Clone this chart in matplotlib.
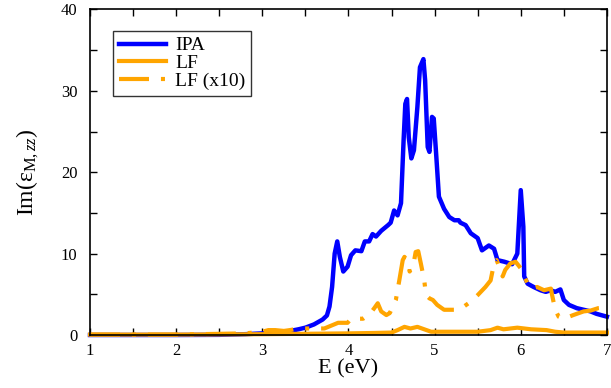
import matplotlib
matplotlib.use("Agg")
import matplotlib.pyplot as plt
import numpy as np

# ---- data ----
E_ipa = [1.0, 2.0, 2.5, 2.8, 3.0, 3.2, 3.3, 3.42, 3.5, 3.6, 3.7, 3.75, 3.78, 3.81, 3.84, 3.87,
         3.90, 3.94, 3.99, 4.03, 4.08, 4.15, 4.19, 4.24, 4.28, 4.32, 4.38, 4.46, 4.49,
         4.53, 4.57, 4.61, 4.64, 4.66, 4.68, 4.70, 4.73, 4.76, 4.80, 4.83, 4.87, 4.89,
         4.92, 4.94, 4.97, 4.99, 5.02, 5.05, 5.11, 5.17, 5.23, 5.28, 5.30, 5.36, 5.42,
         5.50, 5.55, 5.63, 5.69, 5.73, 5.81, 5.90, 5.96, 6.00, 6.03, 6.04, 6.08, 6.15,
         6.23, 6.29, 6.35, 6.40, 6.46, 6.50, 6.56, 6.65, 6.73, 6.81, 6.88, 7.0]
ipa = [0.0, 0.0, 0.02, 0.1, 0.2, 0.3, 0.45, 0.7, 0.9, 1.3, 1.9, 2.4, 3.5, 5.9, 10.0, 11.5,
       9.6, 7.8, 8.4, 9.8, 10.4, 10.3, 11.5, 11.5, 12.4, 12.1, 12.8, 13.5, 13.8,
       15.3, 14.7, 16.2, 23.9, 28.4, 29.0, 24.3, 21.7, 22.7, 28.0, 32.9, 33.9, 31.3,
       23.1, 22.5, 26.8, 26.6, 21.9, 17.0, 15.5, 14.5, 14.1, 14.1, 13.8, 13.5, 12.5,
       11.9, 10.4, 11.0, 10.6, 9.2, 9.0, 8.7, 10.0, 17.8, 13.3, 7.2, 6.3, 5.9,
       5.5, 5.3, 5.5, 5.3, 5.6, 4.3, 3.7, 3.3, 3.1, 2.9, 2.6, 2.25]

E_lf = [1.0, 2.0, 3.0, 3.5, 4.0, 4.3, 4.5, 4.57, 4.65, 4.72, 4.80, 4.88, 4.96, 5.2, 5.5,
        5.65, 5.73, 5.80, 5.88, 5.96, 6.04, 6.12, 6.3, 6.4, 6.5, 7.0]
lf = [0.05, 0.05, 0.1, 0.15, 0.2, 0.25, 0.3, 0.6, 1.0, 0.8, 1.0, 0.7, 0.4, 0.4, 0.4,
      0.6, 0.9, 0.7, 0.8, 0.9, 0.8, 0.7, 0.6, 0.4, 0.3, 0.3]

E_lf10 = [1.0, 2.0, 2.8, 3.0, 3.07, 3.15, 3.25, 3.32, 3.42, 3.55, 3.72, 3.88, 3.99, 4.03,
          4.17, 4.25, 4.30, 4.34, 4.38, 4.44, 4.48, 4.55, 4.59, 4.63, 4.65, 4.69,
          4.71, 4.75, 4.78, 4.81, 4.84, 4.88, 4.90, 4.94, 4.98, 5.03, 5.11, 5.19,
          5.27, 5.34, 5.42, 5.50, 5.59, 5.65, 5.69, 5.72, 5.75, 5.79, 5.82, 5.88,
          5.94, 6.0, 6.04, 6.09, 6.13, 6.19, 6.27, 6.35, 6.36, 6.40, 6.44, 6.50,
          6.61, 6.73, 6.81, 6.90, 7.0]
lf10 = [0.05, 0.05, 0.2, 0.4, 0.6, 0.6, 0.5, 0.6, 0.8, 0.8, 0.8, 1.5, 1.5, 2.0,
        2.0, 2.6, 3.3, 3.9, 2.9, 2.45, 2.7, 4.3, 6.7, 9.2, 9.6, 9.0,
        7.8, 8.4, 10.2, 10.3, 8.8, 6.7, 4.9, 4.5, 4.3, 3.7, 3.1, 3.1,
        3.1, 3.5, 4.1, 4.9, 5.9, 6.7, 8.8, 9.2, 8.4, 7.2, 8.0, 8.8,
        9.0, 8.2, 7.2, 6.1, 5.7, 5.9, 5.5, 5.7, 5.1, 3.1, 2.25, 2.0,
        2.45, 2.9, 3.0, 3.3, 3.4]

labels = ["IPA", "LF", "LF (x10)"]
x_ticks = [1, 2, 3, 4, 5, 6, 7]
y_ticks = [0, 10, 20, 30, 40]

# ---- style ----
plt.rcParams['font.family'] = ['Liberation Serif', 'DejaVu Serif']
plt.rcParams['mathtext.fontset'] = 'custom'
plt.rcParams['mathtext.rm'] = 'Liberation Serif'
plt.rcParams['mathtext.it'] = 'Liberation Serif:italic'
plt.rcParams['lines.scale_dashes'] = False

fig = plt.figure(figsize=(6.11, 3.88), dpi=100)
ax = fig.add_axes([0.1473, 0.1366, 0.846, 0.839])

blue = (0, 0, 1)
orange = (1, 0.647, 0)

ax.plot(E_ipa, ipa, color=blue, lw=3.2, label=labels[0], clip_on=False, solid_joinstyle='round')
ax.plot(E_lf, lf, color=orange, lw=3.0, label=labels[1], clip_on=False, solid_joinstyle='round')
ax.plot(E_lf10, lf10, color=orange, lw=3.0, label=labels[2], clip_on=False,
        linestyle=(0, (21.6, 8.6, 2.9, 8.6)), dash_capstyle='butt')

ax.set_xlim(1, 7)
ax.set_ylim(0, 40)
ax.set_xticks(x_ticks)
ax.set_yticks(y_ticks)
ax.set_xticks(np.arange(1.5, 7, 1.0), minor=True)
ax.set_yticks(np.arange(5, 40, 10), minor=True)
ax.tick_params(which='both', direction='in', top=True, right=True, length=5, width=1,
               labelsize=12, pad=6)
ax.tick_params(axis='y', which='both', pad=9)
for s in ax.spines.values():
    s.set_linewidth(1.2)

ax.set_xlabel("E (eV)", fontsize=16, labelpad=0)
ax.set_ylabel(r"Im(ε$_{\mathrm{M,}\mathit{zz}}$)", fontsize=17, labelpad=14)

leg = ax.legend(loc='upper left', bbox_to_anchor=(0.0445, 0.934), borderaxespad=0,
                fontsize=14, fancybox=False, frameon=True, edgecolor='black',
                handlelength=2.4, handletextpad=0.5, labelspacing=0.0, borderpad=0.3)
leg.get_frame().set_linewidth(1.0)

fig.savefig("out.png", dpi=100)
